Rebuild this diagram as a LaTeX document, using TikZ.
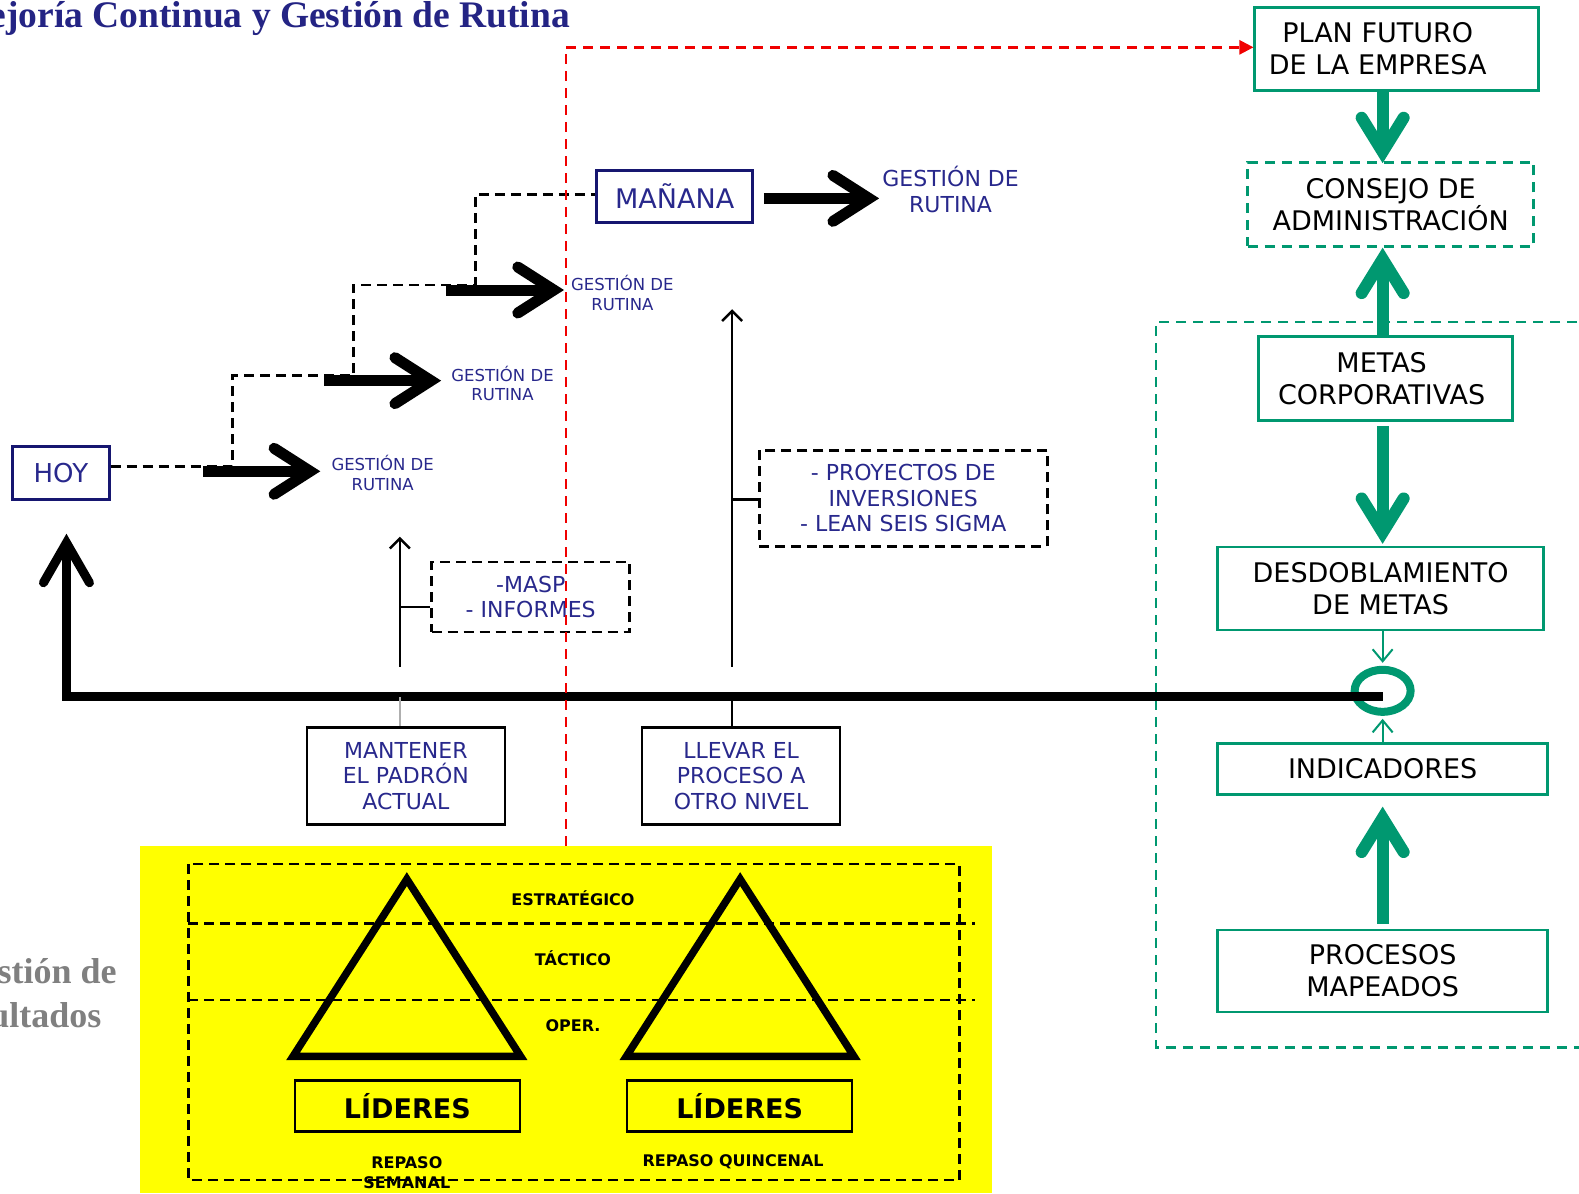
\documentclass[tikz,border=0pt]{standalone}
\usepackage{fontspec}
\setmainfont{DejaVu Sans}
\newfontfamily\headserif{Liberation Serif}
\usetikzlibrary{arrows.meta,shapes.geometric}

\definecolor{inkblue}{RGB}{40,40,140}
\definecolor{framenavy}{RGB}{22,22,112}
\definecolor{titleblue}{RGB}{36,36,132}
\definecolor{leafgreen}{RGB}{0,152,112}
\definecolor{planred}{RGB}{240,0,0}
\definecolor{softgray}{RGB}{128,128,128}
\definecolor{tickgray}{RGB}{175,175,175}
\definecolor{panelyellow}{RGB}{255,255,0}

\tikzset{
  frame/.style={draw, line width=2.5pt, inner sep=0pt, align=center},
  navybox/.style={frame, draw=framenavy, text=inkblue},
  inkbox/.style={frame, draw=black, text=inkblue, font=\fontsize{22}{25.5}\selectfont},
  notebox/.style={inkbox, dash pattern=on 10pt off 6pt},
  greenbox/.style={frame, draw=leafgreen, text=black, font=\fontsize{27}{31.5}\selectfont},
  greendashbox/.style={greenbox, dash pattern=on 10pt off 7pt},
  routine/.style={text=inkblue, inner sep=0pt, align=center, anchor=west, font=\fontsize{16.5}{19.5}\selectfont},
  levelname/.style={inner sep=0pt, align=center, font=\bfseries\fontsize{16}{20}\selectfont},
  leaderbox/.style={frame, draw=black, minimum width=225pt, minimum height=51pt, font=\bfseries\fontsize{27}{30}\selectfont},
  blkdash/.style={draw=black, line width=2.5pt, dash pattern=on 10pt off 6pt},
  reddash/.style={draw=planred, line width=2.5pt, dash pattern=on 10pt off 7pt},
  greendash/.style={draw=leafgreen, line width=2.5pt, dash pattern=on 10pt off 7pt},
  fatarrow/.style={draw=black, line width=11pt,
    -{Straight Barb[length=36pt, width=46pt, line cap=round, line join=miter]}},
  greenarrow/.style={draw=leafgreen, line width=12pt,
    -{Straight Barb[length=34pt, width=42pt, line cap=round, line join=miter]}},
  thinarrow/.style={draw=black, line width=2.5pt,
    -{Straight Barb[length=10pt, width=20pt, line join=miter]}},
  greenthin/.style={draw=leafgreen, line width=2pt,
    -{Straight Barb[length=12pt, width=20pt, line join=miter]}},
  mainline/.style={draw=black, line width=9pt, line join=miter,
    -{Straight Barb[length=40pt, width=46pt, line cap=round, line join=miter]}},
  pyramid/.style={draw=black, line width=7.5pt, line join=miter}
}

\begin{document}
\begin{tikzpicture}[x=1.00702pt, y=-1.00702pt]
\useasboundingbox (0,0) rectangle (1568,1185);

% headings that run off the left edge, and the outer frame that runs off the right edge
\begin{scope}
  \clip (0,0) rectangle (1568,1185);
  \node[anchor=base east, inner sep=0pt, text=titleblue,
        font=\headserif\bfseries\fontsize{37.5}{40}\selectfont] (title) at (566,27)
        {Mejoría Continua y Gestión de Rutina};
  \node[anchor=base east, inner sep=0pt, text=softgray,
        font=\headserif\bfseries\fontsize{36}{40}\selectfont] (res1) at (116,977) {Gestión de};
  \node[anchor=base east, inner sep=0pt, text=softgray,
        font=\headserif\bfseries\fontsize{36}{40}\selectfont] (res2) at (101,1020) {Resultados};
  \draw[greendash] (1600,320) -- (1148,320) -- (1148,1040) -- (1600,1040);
\end{scope}

% leadership panel
\fill[panelyellow] (139,840) rectangle (985,1185);
\draw[blkdash] (187,858) rectangle (953,1172);
\draw[blkdash] (187,917) -- (968,917);
\draw[blkdash] (187,993) -- (968,993);
\draw[pyramid] (404,873) -- (517,1049) -- (291,1049) -- cycle;
\draw[pyramid] (735,873) -- (848,1049) -- (622,1049) -- cycle;
\node[levelname] (lvE) at (569,892) {ESTRATÉGICO};
\node[levelname] (lvT) at (569,952) {TÁCTICO};
\node[levelname] (lvO) at (569,1019) {OPER.};
\node[leaderbox] (lid1) at (404.5,1098.5) {LÍDERES};
\node[leaderbox] (lid2) at (734.5,1098.5) {LÍDERES};
\node[levelname] (rep1) at (404,1164) {REPASO\\SEMANAL};
\node[levelname] (rep2) at (728,1154) {REPASO QUINCENAL};

% today / tomorrow
\node[navybox, minimum width=97pt, minimum height=53pt, font=\fontsize{26}{30}\selectfont] (hoy) at (60.5,469.5) {HOY};
\node[navybox, minimum width=156pt, minimum height=52pt, font=\fontsize{27}{30}\selectfont] (manana) at (670,195) {MAÑANA};

\node[routine] (l1) at (329,469.5) {GESTIÓN DE\\RUTINA};
\node[routine] (l2) at (448,381) {GESTIÓN DE\\RUTINA};
\node[routine] (l3) at (567,291) {GESTIÓN DE\\RUTINA};
\node[routine, font=\fontsize{22}{26}\selectfont] (l4) at (876,188) {GESTIÓN DE\\RUTINA};

% staircase of routine steps
\draw[blkdash] (hoy.east |- 0,463) -- (231,463) -- (231,373) -- (351,373)
  -- (351,283) -- (472,283) -- (472,193) -- (manana.west |- 0,193);
\coordinate (a1) at (202,468);
\coordinate (a2) at (322,378);
\coordinate (a3) at (443,288);
\draw[fatarrow, shorten >=11pt] (a1) -- (l1.west |- a1);
\draw[fatarrow, shorten >=10pt] (a2) -- (l2.west |- a2);
\draw[fatarrow, shorten >=7pt] (a3) -- (l3.west |- a3);
\draw[fatarrow, shorten <=10pt, shorten >=3pt] (manana.east |- 0,197) -- (l4.west |- 0,197);

% improvement tools
\node[notebox, minimum width=198pt, minimum height=70pt] (masp) at (527,593) {-MASP\\- INFORMES};
\node[notebox, minimum width=288pt, minimum height=96pt] (proy) at (897,495) {- PROYECTOS DE\\INVERSIONES\\- LEAN SEIS SIGMA};
\coordinate (up1) at (397,662);
\coordinate (up2) at (727,662);
\draw[thinarrow] (up1) -- (397,533);
\draw[thinarrow] (up2) -- (727,307);
\coordinate (t1) at (397,603);
\coordinate (t2) at (727,496);
\draw[black, line width=2.5pt] (t1) -- (masp.west |- t1);
\draw[black, line width=2.5pt] (t2) -- (proy.west |- t2);

% the two duties
\node[inkbox, minimum width=198pt, minimum height=97pt] (mantener) at (403,770.5) {MANTENER\\EL PADRÓN\\ACTUAL};
\node[inkbox, minimum width=198pt, minimum height=97pt] (llevar) at (736,770.5) {LLEVAR EL\\PROCESO A\\OTRO NIVEL};

% right-hand column
\node[greenbox, minimum width=284pt, minimum height=83pt] (plan) at (1387,48.5)
  {PLAN FUTURO\rule{38pt}{0pt}\\DE LA EMPRESA\rule{38pt}{0pt}};
\node[greendashbox, minimum width=286pt, minimum height=84pt] (consejo) at (1381,203) {CONSEJO DE\\ADMINISTRACIÓN};
\node[greenbox, minimum width=254pt, minimum height=84pt] (metas) at (1376,376)
  {METAS\rule{8pt}{0pt}\\CORPORATIVAS\rule{8pt}{0pt}};
\node[greenbox, minimum width=326pt, minimum height=83pt] (desdob) at (1371,584.5) {DESDOBLAMIENTO\\DE METAS};
\node[ellipse, draw=leafgreen, line width=8pt, minimum width=56pt, minimum height=42pt, inner sep=0pt] (ell) at (1373,686) {};
\node[greenbox, minimum width=330pt, minimum height=51pt] (indic) at (1373,763.5) {INDICADORES};
\node[greenbox, minimum width=330pt, minimum height=82pt] (procesos) at (1373,964) {PROCESOS\\MAPEADOS};

\draw[greenarrow, shorten >=-2pt] (plan.south -| ell) -- (consejo.north -| ell);
\draw[greenarrow] (metas.north -| ell) -- (consejo.south -| ell);
\draw[greenarrow, shorten <=4pt, shorten >=2pt] (metas.south -| ell) -- (desdob.north -| ell);
\draw[greenarrow, shorten <=5pt, shorten >=11pt] (procesos.north -| ell) -- (indic.south -| ell);
\draw[greenthin, shorten >=3pt] (desdob.south -| ell) -- (ell.north);
\draw[greenthin, shorten >=3pt] (indic.north -| ell) -- (ell.south);

% main timeline back to today
\coordinate (mainend) at (1373,692);
\coordinate (corner) at (66,692);
\coordinate (hoytip) at (66,530);
\draw[mainline] (mainend) -- (corner) -- (hoytip);
\draw[tickgray, line width=2.5pt] (up1 |- mainend) -- (up1 |- mantener.north);
\draw[black, line width=2.5pt] (up2 |- mainend) -- (up2 |- llevar.north);

% link from the present plan to the company's future plan
\coordinate (redfoot) at (562,840);
\draw[reddash, -{Triangle[length=14pt, width=14pt]}] (redfoot) |- (plan.west |- 0,47);
\end{tikzpicture}
\end{document}
